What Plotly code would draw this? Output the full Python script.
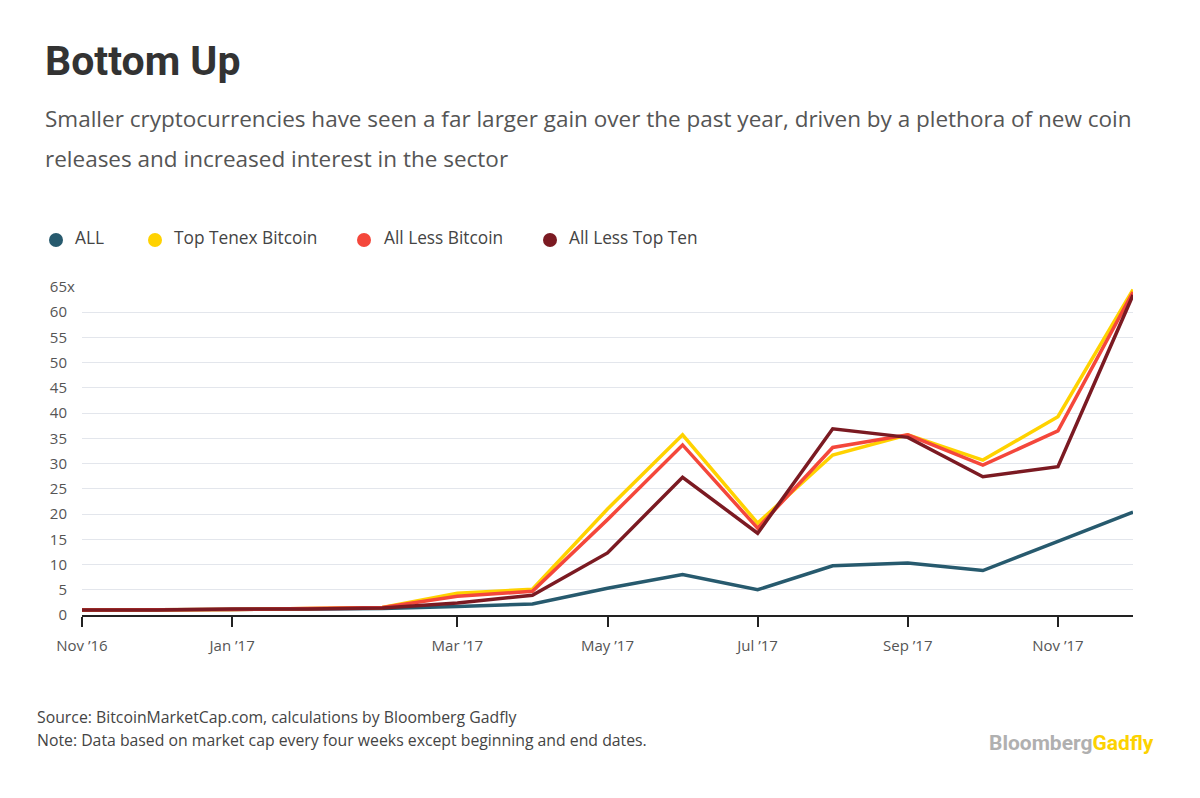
import plotly.graph_objects as go

# ---- data (multiples of starting market cap, sampled every four weeks) ----
period_index = list(range(15))
tick_positions = [0, 2, 5, 7, 9, 11, 13]
tick_labels = ["Nov \u201916", "Jan \u201917", "Mar \u201917", "May \u201917", "Jul \u201917", "Sep \u201917", "Nov \u201917"]

all_coins = [1.0, 1.0, 1.1, 1.2, 1.3, 1.7, 2.2, 5.3, 8.0, 5.0, 9.75, 10.3, 8.8, 14.6, 20.4]
top_ten_ex_btc = [1.0, 1.0, 1.1, 1.3, 1.5, 4.3, 5.1, 21.0, 35.7, 18.2, 31.7, 35.7, 30.7, 39.3, 64.5]
all_less_btc = [1.0, 1.0, 1.1, 1.3, 1.5, 3.7, 4.7, 18.9, 33.7, 17.2, 33.2, 35.7, 29.7, 36.5, 64.0]
all_less_top_ten = [1.0, 1.0, 1.2, 1.2, 1.4, 2.4, 3.9, 12.3, 27.3, 16.2, 36.9, 35.2, 27.4, 29.4, 63.4]

y_ticks = list(range(0, 70, 5))
y_tick_labels = [str(v) for v in y_ticks]

series_names = ["ALL", "Top Tenex Bitcoin", "All Less Bitcoin", "All Less Top Ten"]
series_values = [all_coins, top_ten_ex_btc, all_less_btc, all_less_top_ten]
series_colors = ["#275a6e", "#ffd200", "#f4473b", "#7b1a22"]

FONT = "Open Sans"
TITLE_FONT = "Roboto"

# page has an 8px body margin; positions below are given in window pixels
OFF = 8
W, H = 1200 - OFF, 798 - OFF
L, R, T, B = 82 - OFF, 1133 - OFF, 287 - OFF, 615 - OFF


def px(x):
    return ((x - OFF) - L) / (R - L)


def py(y):
    return (B - (y - OFF)) / (B - T)


fig = go.Figure()
for name, vals, col in zip(series_names, series_values, series_colors):
    fig.add_trace(go.Scatter(x=period_index, y=vals, mode="lines", name=name,
                             line=dict(color=col, width=3.5), showlegend=False,
                             hoverinfo="x+y+name"))

annotations = [
    dict(text="<b>Bottom Up</b>", x=px(43), y=py(61), xanchor="left", yanchor="middle",
         font=dict(family=TITLE_FONT, size=41, color="#333333")),
    dict(text="Smaller cryptocurrencies have seen a far larger gain over the past year, driven by a plethora of new coin",
         x=px(43), y=py(118), xanchor="left", yanchor="middle",
         font=dict(family=FONT, size=22.5, color="#555555")),
    dict(text="releases and increased interest in the sector",
         x=px(43), y=py(158), xanchor="left", yanchor="middle",
         font=dict(family=FONT, size=22.5, color="#555555")),
    dict(text="Source: BitcoinMarketCap.com, calculations by Bloomberg Gadfly",
         x=px(35), y=py(717), xanchor="left", yanchor="middle",
         font=dict(family=FONT, size=15.8, color="#444444")),
    dict(text="Note: Data based on market cap every four weeks except beginning and end dates.",
         x=px(35), y=py(740), xanchor="left", yanchor="middle",
         font=dict(family=FONT, size=15.8, color="#444444")),
    dict(text="<b><span style='color:#b0b0b0'>Bloomberg</span><span style='color:#fcd200'>Gadfly</span></b>",
         x=px(1156), y=py(743), xanchor="right", yanchor="middle",
         font=dict(family=TITLE_FONT, size=21, color="#b0b0b0")),
    dict(text="x", x=px(65), y=py(286), xanchor="left", yanchor="middle",
         font=dict(family=FONT, size=15, color="#555555")),
]

shapes = []
legend_dot_x = [56, 155, 364, 550]
legend_text_x = [73, 172, 382, 567]
for name, col, dx, tx in zip(series_names, series_colors, legend_dot_x, legend_text_x):
    shapes.append(dict(type="circle", xref="paper", yref="paper",
                       x0=px(dx - 7), x1=px(dx + 7), y0=py(240 + 7), y1=py(240 - 7),
                       fillcolor=col, line=dict(width=0)))
    annotations.append(dict(text=name, x=px(tx), y=py(237), xanchor="left", yanchor="middle",
                            font=dict(family=FONT, size=17.3, color="#444444")))

fig.update_layout(
    width=W, height=H,
    margin=dict(l=L, r=W - R, t=T, b=H - B),
    paper_bgcolor="white", plot_bgcolor="white",
    annotations=[dict(a, xref="paper", yref="paper", showarrow=False) for a in annotations],
    shapes=shapes,
    showlegend=False,
    font=dict(family=FONT, color="#555555"),
)
fig.update_xaxes(range=[0, 14], tickvals=tick_positions, ticktext=tick_labels,
                 showgrid=False, zeroline=False, showline=True, linecolor="#222222", linewidth=1.5,
                 ticks="outside", ticklen=10, tickcolor="#222222", tickwidth=1.5,
                 tickfont=dict(family=FONT, size=15, color="#555555"), ticklabelstandoff=6)
fig.update_yaxes(range=[0, 65], tickvals=y_ticks, ticktext=y_tick_labels,
                 showgrid=True, gridcolor="#e3e6ec", gridwidth=1.2, zeroline=False,
                 showline=False, ticks="", tickfont=dict(family=FONT, size=15, color="#555555"),
                 ticklabelstandoff=14)

fig.write_html("out.html")
